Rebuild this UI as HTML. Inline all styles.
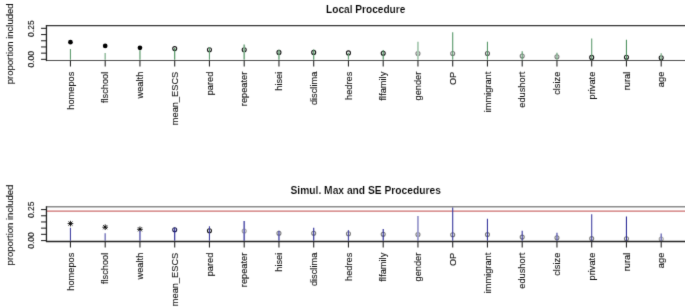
<!DOCTYPE html>
<html><head><meta charset="utf-8"><style>
html,body{margin:0;padding:0;background:#fff;}
body{width:685px;height:308px;overflow:hidden;}
svg{display:block;}
text{font-family:"Liberation Sans",Arial,sans-serif;fill:#111;stroke:#111;stroke-width:0.1px;}
.title{font-weight:bold;font-size:10.25px;text-anchor:middle;fill:#000;stroke:#fff;stroke-width:0.12px;}
.ylab{font-size:9.5px;text-anchor:middle;}
.ytk{font-size:8.5px;text-anchor:middle;}
.xl{font-size:9.25px;text-anchor:end;}
.ax{stroke:#222;stroke-width:1.3;}
.tk{stroke:#2a2a2a;stroke-width:1.1;}
</style></head><body>
<svg width="685" height="308" viewBox="0 0 685 308">
<defs><filter id="soft" x="0" y="0" width="685" height="308" filterUnits="userSpaceOnUse" color-interpolation-filters="sRGB"><feConvolveMatrix order="3" kernelMatrix="0.01 0.08 0.01 0.08 0.64 0.08 0.01 0.08 0.01" edgeMode="duplicate" preserveAlpha="true"/></filter></defs>
<g filter="url(#soft)">
<rect width="685" height="308" fill="#fff"/>
<text x="365.7" y="13.10" class="title" style="font-size:10.15px">Local Procedure</text>
<text transform="translate(12.8,43.80) rotate(-90)" class="ylab">proportion included</text>
<line x1="41.05" y1="59.35" x2="46.45" y2="59.35" class="tk"/>
<line x1="41.05" y1="53.15" x2="46.45" y2="53.15" class="tk"/>
<line x1="41.05" y1="46.95" x2="46.45" y2="46.95" class="tk"/>
<line x1="41.05" y1="40.75" x2="46.45" y2="40.75" class="tk"/>
<line x1="41.05" y1="34.55" x2="46.45" y2="34.55" class="tk"/>
<line x1="41.05" y1="28.35" x2="46.45" y2="28.35" class="tk"/>
<text transform="translate(34.4,59.35) rotate(-90)" class="ytk">0.00</text>
<text transform="translate(34.4,28.65) rotate(-90)" class="ytk">0.25</text>
<circle cx="70.45" cy="42.20" r="2.35" fill="#000"/>
<circle cx="105.20" cy="45.90" r="2.35" fill="#000"/>
<circle cx="139.95" cy="47.80" r="2.35" fill="#000"/>
<circle cx="174.70" cy="48.60" r="2.0" fill="none" stroke="#151515" stroke-width="1.1"/>
<circle cx="209.45" cy="49.80" r="2.0" fill="none" stroke="#151515" stroke-width="1.1"/>
<circle cx="244.20" cy="49.80" r="2.0" fill="none" stroke="#151515" stroke-width="1.1"/>
<circle cx="278.95" cy="52.40" r="2.0" fill="none" stroke="#151515" stroke-width="1.1"/>
<circle cx="313.70" cy="52.40" r="2.0" fill="none" stroke="#151515" stroke-width="1.1"/>
<circle cx="348.45" cy="52.90" r="2.0" fill="none" stroke="#151515" stroke-width="1.1"/>
<circle cx="383.20" cy="53.30" r="2.0" fill="none" stroke="#151515" stroke-width="1.1"/>
<circle cx="417.95" cy="53.50" r="2.0" fill="none" stroke="#7a7a7a" stroke-width="1.1"/>
<circle cx="452.70" cy="53.50" r="2.0" fill="none" stroke="#7a7a7a" stroke-width="1.1"/>
<circle cx="487.45" cy="53.50" r="2.0" fill="none" stroke="#555" stroke-width="1.1"/>
<circle cx="522.20" cy="56.00" r="2.0" fill="none" stroke="#7a7a7a" stroke-width="1.1"/>
<circle cx="556.95" cy="56.70" r="2.0" fill="none" stroke="#7a7a7a" stroke-width="1.1"/>
<circle cx="591.70" cy="57.40" r="2.0" fill="none" stroke="#151515" stroke-width="1.1"/>
<circle cx="626.45" cy="57.20" r="2.0" fill="none" stroke="#151515" stroke-width="1.1"/>
<circle cx="661.20" cy="57.70" r="2.0" fill="none" stroke="#151515" stroke-width="1.1"/>
<line x1="70.45" y1="48.90" x2="70.45" y2="59.65" stroke="#619d71" stroke-width="1.1"/>
<line x1="105.20" y1="52.90" x2="105.20" y2="59.65" stroke="#99c0a3" stroke-width="1.6"/>
<line x1="139.95" y1="50.20" x2="139.95" y2="59.65" stroke="#86b492" stroke-width="1.6"/>
<line x1="174.70" y1="48.00" x2="174.70" y2="59.65" stroke="#458c58" stroke-width="1.1"/>
<line x1="209.45" y1="47.00" x2="209.45" y2="59.65" stroke="#619d71" stroke-width="1.1"/>
<line x1="244.20" y1="44.50" x2="244.20" y2="59.65" stroke="#7dae8a" stroke-width="1.7"/>
<line x1="278.95" y1="49.80" x2="278.95" y2="59.65" stroke="#6aa379" stroke-width="1.4"/>
<line x1="313.70" y1="49.40" x2="313.70" y2="59.65" stroke="#589869" stroke-width="1.2"/>
<line x1="348.45" y1="52.90" x2="348.45" y2="59.65" stroke="#6aa379" stroke-width="1.2"/>
<line x1="383.20" y1="50.00" x2="383.20" y2="59.65" stroke="#458c58" stroke-width="1.1"/>
<line x1="417.95" y1="41.80" x2="417.95" y2="59.65" stroke="#abcbb4" stroke-width="1.8"/>
<line x1="452.70" y1="32.30" x2="452.70" y2="59.65" stroke="#589869" stroke-width="1.1"/>
<line x1="487.45" y1="41.80" x2="487.45" y2="59.65" stroke="#589869" stroke-width="1.1"/>
<line x1="522.20" y1="51.30" x2="522.20" y2="59.65" stroke="#619d71" stroke-width="1.2"/>
<line x1="556.95" y1="52.70" x2="556.95" y2="59.65" stroke="#7dae8a" stroke-width="1.4"/>
<line x1="591.70" y1="38.40" x2="591.70" y2="59.65" stroke="#619d71" stroke-width="1.1"/>
<line x1="626.45" y1="39.80" x2="626.45" y2="59.65" stroke="#4e9260" stroke-width="1.1"/>
<line x1="661.20" y1="53.20" x2="661.20" y2="59.65" stroke="#86b492" stroke-width="1.4"/>
<line x1="46.45" y1="25.60" x2="700" y2="25.60" stroke="#333" stroke-width="1.1"/>
<line x1="46.45" y1="25.00" x2="46.45" y2="61.10" class="ax"/>
<line x1="46.45" y1="60.50" x2="700" y2="60.50" stroke="#222" stroke-width="0.8"/>
<line x1="70.45" y1="60.50" x2="70.45" y2="66.50" class="tk"/>
<text transform="translate(73.55,71.70) rotate(-90)" class="xl">homepos</text>
<line x1="105.20" y1="60.50" x2="105.20" y2="66.50" class="tk"/>
<text transform="translate(108.30,71.70) rotate(-90)" class="xl">flschool</text>
<line x1="139.95" y1="60.50" x2="139.95" y2="66.50" class="tk"/>
<text transform="translate(143.05,71.70) rotate(-90)" class="xl">wealth</text>
<line x1="174.70" y1="60.50" x2="174.70" y2="66.50" class="tk"/>
<text transform="translate(177.80,71.70) rotate(-90)" class="xl">mean_ESCS</text>
<line x1="209.45" y1="60.50" x2="209.45" y2="66.50" class="tk"/>
<text transform="translate(212.55,71.70) rotate(-90)" class="xl">pared</text>
<line x1="244.20" y1="60.50" x2="244.20" y2="66.50" class="tk"/>
<text transform="translate(247.30,71.70) rotate(-90)" class="xl">repeater</text>
<line x1="278.95" y1="60.50" x2="278.95" y2="66.50" class="tk"/>
<text transform="translate(282.05,71.70) rotate(-90)" class="xl">hisei</text>
<line x1="313.70" y1="60.50" x2="313.70" y2="66.50" class="tk"/>
<text transform="translate(316.80,71.70) rotate(-90)" class="xl">disclima</text>
<line x1="348.45" y1="60.50" x2="348.45" y2="66.50" class="tk"/>
<text transform="translate(351.55,71.70) rotate(-90)" class="xl">hedres</text>
<line x1="383.20" y1="60.50" x2="383.20" y2="66.50" class="tk"/>
<text transform="translate(386.30,71.70) rotate(-90)" class="xl">flfamily</text>
<line x1="417.95" y1="60.50" x2="417.95" y2="66.50" class="tk"/>
<text transform="translate(421.05,71.70) rotate(-90)" class="xl">gender</text>
<line x1="452.70" y1="60.50" x2="452.70" y2="66.50" class="tk"/>
<text transform="translate(455.80,71.70) rotate(-90)" class="xl">OP</text>
<line x1="487.45" y1="60.50" x2="487.45" y2="66.50" class="tk"/>
<text transform="translate(490.55,71.70) rotate(-90)" class="xl">immigrant</text>
<line x1="522.20" y1="60.50" x2="522.20" y2="66.50" class="tk"/>
<text transform="translate(525.30,71.70) rotate(-90)" class="xl">edushort</text>
<line x1="556.95" y1="60.50" x2="556.95" y2="66.50" class="tk"/>
<text transform="translate(560.05,71.70) rotate(-90)" class="xl">clsize</text>
<line x1="591.70" y1="60.50" x2="591.70" y2="66.50" class="tk"/>
<text transform="translate(594.80,71.70) rotate(-90)" class="xl">private</text>
<line x1="626.45" y1="60.50" x2="626.45" y2="66.50" class="tk"/>
<text transform="translate(629.55,71.70) rotate(-90)" class="xl">rural</text>
<line x1="661.20" y1="60.50" x2="661.20" y2="66.50" class="tk"/>
<text transform="translate(664.30,71.70) rotate(-90)" class="xl">age</text>
<text x="365.7" y="194.30" class="title">Simul. Max and SE Procedures</text>
<text transform="translate(12.8,225.00) rotate(-90)" class="ylab">proportion included</text>
<line x1="41.05" y1="240.55" x2="46.45" y2="240.55" class="tk"/>
<line x1="41.05" y1="234.35" x2="46.45" y2="234.35" class="tk"/>
<line x1="41.05" y1="228.15" x2="46.45" y2="228.15" class="tk"/>
<line x1="41.05" y1="221.95" x2="46.45" y2="221.95" class="tk"/>
<line x1="41.05" y1="215.75" x2="46.45" y2="215.75" class="tk"/>
<line x1="41.05" y1="209.55" x2="46.45" y2="209.55" class="tk"/>
<text transform="translate(34.4,240.55) rotate(-90)" class="ytk">0.00</text>
<text transform="translate(34.4,209.85) rotate(-90)" class="ytk">0.25</text>
<line x1="46.45" y1="211.15" x2="700" y2="211.15" stroke="#cc6e6e" stroke-width="1.4"/>
<path d="M67.65 223.60H73.25M70.45 220.80V226.40M68.43 221.58L72.47 225.62M68.43 225.62L72.47 221.58" stroke="#000" stroke-width="0.9" fill="none"/>
<path d="M102.40 227.20H108.00M105.20 224.40V230.00M103.18 225.18L107.22 229.22M103.18 229.22L107.22 225.18" stroke="#000" stroke-width="0.9" fill="none"/>
<path d="M137.15 229.30H142.75M139.95 226.50V232.10M137.93 227.28L141.97 231.32M137.93 231.32L141.97 227.28" stroke="#000" stroke-width="0.9" fill="none"/>
<circle cx="174.70" cy="229.80" r="2.0" fill="none" stroke="#1a1a50" stroke-width="1.1"/>
<circle cx="209.45" cy="230.80" r="2.0" fill="none" stroke="#151515" stroke-width="1.1"/>
<circle cx="244.20" cy="231.00" r="2.0" fill="none" stroke="#a0a0a0" stroke-width="1.1"/>
<circle cx="278.95" cy="233.30" r="2.0" fill="none" stroke="#7a7a7a" stroke-width="1.1"/>
<circle cx="313.70" cy="233.30" r="2.0" fill="none" stroke="#7a7a7a" stroke-width="1.1"/>
<circle cx="348.45" cy="233.80" r="2.0" fill="none" stroke="#7a7a7a" stroke-width="1.1"/>
<circle cx="383.20" cy="234.20" r="2.0" fill="none" stroke="#7a7a7a" stroke-width="1.1"/>
<circle cx="417.95" cy="234.50" r="2.0" fill="none" stroke="#7a7a7a" stroke-width="1.1"/>
<circle cx="452.70" cy="234.70" r="2.0" fill="none" stroke="#7a7a7a" stroke-width="1.1"/>
<circle cx="487.45" cy="234.60" r="2.0" fill="none" stroke="#7a7a7a" stroke-width="1.1"/>
<circle cx="522.20" cy="237.10" r="2.0" fill="none" stroke="#7a7a7a" stroke-width="1.1"/>
<circle cx="556.95" cy="237.70" r="2.0" fill="none" stroke="#7a7a7a" stroke-width="1.1"/>
<circle cx="591.70" cy="238.60" r="2.0" fill="none" stroke="#7a7a7a" stroke-width="1.1"/>
<circle cx="626.45" cy="238.80" r="2.0" fill="none" stroke="#7a7a7a" stroke-width="1.1"/>
<circle cx="661.20" cy="239.00" r="2.0" fill="none" stroke="#a0a0a0" stroke-width="1.1"/>
<line x1="70.45" y1="227.70" x2="70.45" y2="240.85" stroke="#4343a2" stroke-width="1.1"/>
<line x1="105.20" y1="233.30" x2="105.20" y2="240.85" stroke="#8585c3" stroke-width="1.6"/>
<line x1="139.95" y1="230.70" x2="139.95" y2="240.85" stroke="#6f6fb8" stroke-width="1.6"/>
<line x1="174.70" y1="227.70" x2="174.70" y2="240.85" stroke="#222292" stroke-width="1.1"/>
<line x1="209.45" y1="226.30" x2="209.45" y2="240.85" stroke="#4343a2" stroke-width="1.1"/>
<line x1="244.20" y1="221.00" x2="244.20" y2="240.85" stroke="#6464b3" stroke-width="1.7"/>
<line x1="278.95" y1="230.70" x2="278.95" y2="240.85" stroke="#4e4ea8" stroke-width="1.4"/>
<line x1="313.70" y1="227.70" x2="313.70" y2="240.85" stroke="#38389d" stroke-width="1.2"/>
<line x1="348.45" y1="230.10" x2="348.45" y2="240.85" stroke="#4e4ea8" stroke-width="1.2"/>
<line x1="383.20" y1="228.90" x2="383.20" y2="240.85" stroke="#222292" stroke-width="1.1"/>
<line x1="417.95" y1="216.10" x2="417.95" y2="240.85" stroke="#9c9cce" stroke-width="1.8"/>
<line x1="452.70" y1="207.30" x2="452.70" y2="240.85" stroke="#38389d" stroke-width="1.1"/>
<line x1="487.45" y1="218.80" x2="487.45" y2="240.85" stroke="#38389d" stroke-width="1.1"/>
<line x1="522.20" y1="230.70" x2="522.20" y2="240.85" stroke="#4343a2" stroke-width="1.2"/>
<line x1="556.95" y1="232.80" x2="556.95" y2="240.85" stroke="#6464b3" stroke-width="1.4"/>
<line x1="591.70" y1="214.30" x2="591.70" y2="240.85" stroke="#4343a2" stroke-width="1.1"/>
<line x1="626.45" y1="216.50" x2="626.45" y2="240.85" stroke="#2d2d97" stroke-width="1.1"/>
<line x1="661.20" y1="233.60" x2="661.20" y2="240.85" stroke="#6f6fb8" stroke-width="1.4"/>
<line x1="46.45" y1="206.80" x2="700" y2="206.80" stroke="#8a8a8a" stroke-width="1.4"/>
<line x1="46.45" y1="206.20" x2="46.45" y2="242.10" class="ax"/>
<line x1="46.45" y1="241.50" x2="700" y2="241.50" stroke="#222" stroke-width="1.3"/>
<line x1="70.45" y1="241.50" x2="70.45" y2="247.50" class="tk"/>
<text transform="translate(73.55,252.70) rotate(-90)" class="xl">homepos</text>
<line x1="105.20" y1="241.50" x2="105.20" y2="247.50" class="tk"/>
<text transform="translate(108.30,252.70) rotate(-90)" class="xl">flschool</text>
<line x1="139.95" y1="241.50" x2="139.95" y2="247.50" class="tk"/>
<text transform="translate(143.05,252.70) rotate(-90)" class="xl">wealth</text>
<line x1="174.70" y1="241.50" x2="174.70" y2="247.50" class="tk"/>
<text transform="translate(177.80,252.70) rotate(-90)" class="xl">mean_ESCS</text>
<line x1="209.45" y1="241.50" x2="209.45" y2="247.50" class="tk"/>
<text transform="translate(212.55,252.70) rotate(-90)" class="xl">pared</text>
<line x1="244.20" y1="241.50" x2="244.20" y2="247.50" class="tk"/>
<text transform="translate(247.30,252.70) rotate(-90)" class="xl">repeater</text>
<line x1="278.95" y1="241.50" x2="278.95" y2="247.50" class="tk"/>
<text transform="translate(282.05,252.70) rotate(-90)" class="xl">hisei</text>
<line x1="313.70" y1="241.50" x2="313.70" y2="247.50" class="tk"/>
<text transform="translate(316.80,252.70) rotate(-90)" class="xl">disclima</text>
<line x1="348.45" y1="241.50" x2="348.45" y2="247.50" class="tk"/>
<text transform="translate(351.55,252.70) rotate(-90)" class="xl">hedres</text>
<line x1="383.20" y1="241.50" x2="383.20" y2="247.50" class="tk"/>
<text transform="translate(386.30,252.70) rotate(-90)" class="xl">flfamily</text>
<line x1="417.95" y1="241.50" x2="417.95" y2="247.50" class="tk"/>
<text transform="translate(421.05,252.70) rotate(-90)" class="xl">gender</text>
<line x1="452.70" y1="241.50" x2="452.70" y2="247.50" class="tk"/>
<text transform="translate(455.80,252.70) rotate(-90)" class="xl">OP</text>
<line x1="487.45" y1="241.50" x2="487.45" y2="247.50" class="tk"/>
<text transform="translate(490.55,252.70) rotate(-90)" class="xl">immigrant</text>
<line x1="522.20" y1="241.50" x2="522.20" y2="247.50" class="tk"/>
<text transform="translate(525.30,252.70) rotate(-90)" class="xl">edushort</text>
<line x1="556.95" y1="241.50" x2="556.95" y2="247.50" class="tk"/>
<text transform="translate(560.05,252.70) rotate(-90)" class="xl">clsize</text>
<line x1="591.70" y1="241.50" x2="591.70" y2="247.50" class="tk"/>
<text transform="translate(594.80,252.70) rotate(-90)" class="xl">private</text>
<line x1="626.45" y1="241.50" x2="626.45" y2="247.50" class="tk"/>
<text transform="translate(629.55,252.70) rotate(-90)" class="xl">rural</text>
<line x1="661.20" y1="241.50" x2="661.20" y2="247.50" class="tk"/>
<text transform="translate(664.30,252.70) rotate(-90)" class="xl">age</text>
</g>
</svg>
</body></html>
